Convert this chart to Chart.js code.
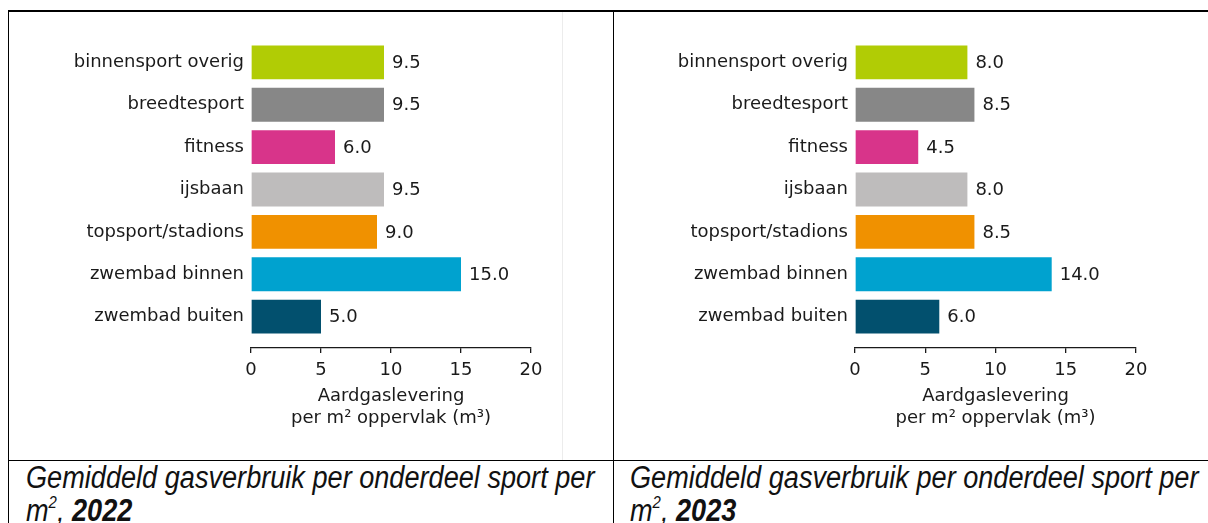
<!DOCTYPE html>
<html>
<head>
<meta charset="utf-8">
<script src="https://cdn.jsdelivr.net/npm/chart.js@4.4.1/dist/chart.umd.min.js"></script>
<style>
  html, body { margin: 0; padding: 0; background: #fff; }
  body { width: 1208px; height: 523px; position: relative; overflow: hidden; }
  .line { position: absolute; background: #000; }
  .box { position: absolute; top: 12px; width: 550px; height: 440px; }
  .caption {
    position: absolute; top: 461px;
    font-family: "Liberation Sans", Arial, sans-serif;
    font-style: italic; font-size: 31px; line-height: 33px; color: #111;
    white-space: nowrap;
    transform: scaleX(0.875); transform-origin: 0 0;
  }
  .caption sup { font-size: 0.55em; line-height: 0; vertical-align: 0.75em; }
</style>
</head>
<body>
<div class="line" style="left:8px; top:10px; width:1200px; height:2px;"></div>
<div class="line" style="left:8px; top:10px; width:1px; height:513px;"></div>
<div class="line" style="left:613px; top:10px; width:1px; height:513px;"></div>
<div class="line" style="left:8px; top:460px; width:1200px; height:1px;"></div>
<div class="line" style="left:562px; top:12px; width:1px; height:448px; background:#ececec;"></div>

<div class="box" style="left:10px;"><canvas id="chart2022"></canvas></div>
<div class="box" style="left:615px;"><canvas id="chart2023"></canvas></div>

<div class="caption" style="left:26px;">Gemiddeld gasverbruik per onderdeel sport per<br>m<sup>2</sup>, <b>2022</b></div>
<div class="caption" style="left:630px;">Gemiddeld gasverbruik per onderdeel sport per<br>m<sup>2</sup>, <b>2023</b></div>

<script>
const categories = ['binnensport overig', 'breedtesport', 'fitness', 'ijsbaan',
                    'topsport/stadions', 'zwembad binnen', 'zwembad buiten'];
const values2022 = [9.5, 9.5, 6.0, 9.5, 9.0, 15.0, 5.0];
const values2023 = [8.0, 8.5, 4.5, 8.0, 8.5, 14.0, 6.0];
const barColors = ['#b1cc05', '#878787', '#d8348a', '#bebcbc', '#f09100', '#00a2cf', '#02506e'];
const xTicks = [0, 5, 10, 15, 20];

const FONT = "'DejaVu Sans', sans-serif";
const INK = '#1a1a1a';

// value labels right of each bar
const valueLabels = {
  id: 'valueLabels',
  afterDatasetsDraw(chart) {
    const ctx = chart.ctx;
    const meta = chart.getDatasetMeta(0);
    ctx.save();
    ctx.font = '18px ' + FONT;
    ctx.fillStyle = INK;
    ctx.textBaseline = 'middle';
    ctx.textAlign = 'left';
    meta.data.forEach((bar, i) => {
      const v = chart.data.datasets[0].data[i].x;
      ctx.fillText(v.toFixed(1), bar.x + 8, bar.y + 1);
    });
    ctx.restore();
  }
};

function makeChart(id, values, leftWidth) {
  const ctx = document.getElementById(id).getContext('2d');
  return new Chart(ctx, {
    type: 'bar',
    data: {
      datasets: [{
        data: values.map((v, i) => ({ x: v, y: i })),
        backgroundColor: barColors,
        borderWidth: 0,
        barPercentage: 0.8,
        categoryPercentage: 1.0
      }]
    },
    options: {
      indexAxis: 'y',
      responsive: true,
      maintainAspectRatio: false,
      animation: false,
      layout: { padding: { left: 0, right: 29, top: 19, bottom: 0 } },
      plugins: { legend: { display: false }, tooltip: { enabled: false } },
      scales: {
        y: {
          type: 'linear',
          reverse: true,
          offset: false,
          min: -0.74,
          max: 6.74,
          afterBuildTicks: s => { s.ticks = categories.map((_, i) => ({ value: i })); },
          afterFit: s => { s.width = leftWidth; },
          grid: { display: false, drawTicks: false, offset: false },
          border: { display: false },
          ticks: {
            callback: v => categories[v],
            font: { family: FONT, size: 18 },
            color: INK,
            padding: 7
          }
        },
        x: {
          type: 'linear',
          min: 0,
          max: 20,
          afterBuildTicks: s => { s.ticks = xTicks.map(v => ({ value: v })); },
          afterFit: s => { s.height = 104; },
          grid: { drawOnChartArea: false, drawTicks: true, tickLength: 5, color: INK, lineWidth: 1.3 },
          border: { display: true, color: INK, width: 1.3 },
          ticks: { font: { family: FONT, size: 18 }, color: INK, padding: 7 },
          title: {
            display: true,
            text: ['Aardgaslevering', 'per m\u00b2 oppervlak (m\u00b3)'],
            font: { family: FONT, size: 18, lineHeight: 1.25 },
            color: INK,
            padding: { top: 0, bottom: 22 }
          }
        }
      }
    },
    plugins: [valueLabels]
  });
}

makeChart('chart2022', values2022, 241);
makeChart('chart2023', values2023, 240);
</script>
</body>
</html>
